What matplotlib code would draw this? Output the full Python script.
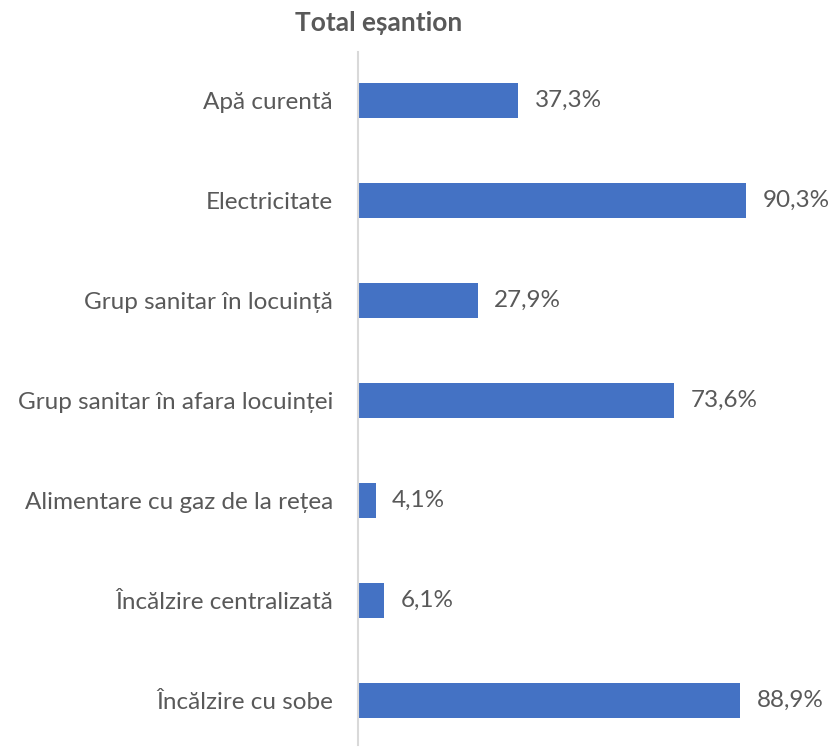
import matplotlib
matplotlib.use("Agg")
import matplotlib.pyplot as plt

plt.rcParams["font.family"] = ["Lato", "DejaVu Sans"]

categories = [
    "Apă curentă",
    "Electricitate",
    "Grup sanitar în locuință",
    "Grup sanitar în afara locuinței",
    "Alimentare cu gaz de la rețea",
    "Încălzire centralizată",
    "Încălzire cu sobe",
]
values = [37.3, 90.3, 27.9, 73.6, 4.1, 6.1, 88.9]
title = "Total eșantion"

BAR = "#4472C4"
TXT = "#595959"

fig = plt.figure(figsize=(8.3, 7.47), dpi=100)
ax = fig.add_axes([358 / 830, 2 / 747, 430 / 830, 693 / 747])

pos = list(range(len(categories)))
ax.barh(pos, values, height=0.35, color=BAR)
ax.set_ylim(6.445, -0.485)
ax.set_xlim(0, 100)

for y, v in zip(pos, values):
    ax.text(v + 3.8, y, f"{v:.1f}%".replace(".", ","), va="center", ha="left",
            fontsize=17.5, color=TXT)

ax.set_yticks(pos)
ax.set_yticklabels(categories, fontsize=17.5, color=TXT)
ax.tick_params(axis="y", length=0, pad=18)
ax.set_xticks([])
for s in ["top", "right", "bottom"]:
    ax.spines[s].set_visible(False)
ax.spines["left"].set_color("#D9D9D9")
ax.spines["left"].set_linewidth(1.5)

fig.text(379 / 830, 1 - 23 / 747, title, ha="center", va="center",
         fontsize=19, fontweight="bold", color=TXT)

fig.savefig("out.png")
